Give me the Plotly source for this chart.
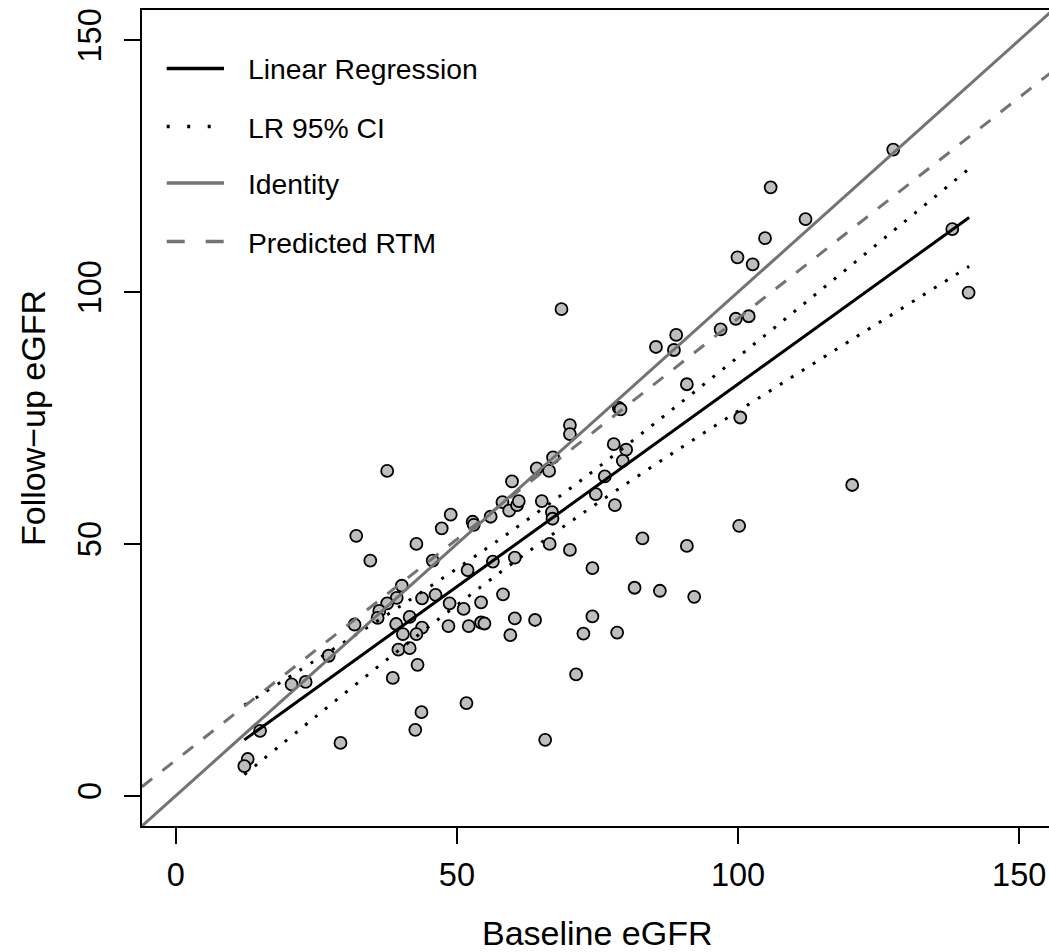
import plotly.graph_objects as go

# ---- data ----
baseline = [32.1, 42.8, 47.3, 34.6, 45.7, 51.9, 40.2, 39.3, 37.6, 36.2,
            35.9, 43.8, 46.2, 48.7, 51.2, 54.3, 41.6, 39.2, 43.8, 40.4,
            42.8, 48.5, 52.1, 54.3, 54.9, 31.8, 27.2, 39.6, 41.6, 43.0,
            38.6, 20.6, 23.1, 51.7, 43.7, 42.6, 15.0, 29.3, 12.8, 12.2,
            37.6, 48.9, 52.8, 53.0, 56.0, 59.8, 58.1, 59.3, 60.7, 61.0,
            64.2, 66.4, 67.1, 70.1, 70.1, 65.1, 66.9, 67.0, 66.5, 70.1,
            60.3, 56.4,
            77.9, 80.1, 79.5, 76.3, 74.7, 78.1, 83.0, 90.9, 74.1, 81.6,
            86.1, 92.2, 58.2, 60.3, 63.9, 59.5, 74.1, 72.5, 78.5, 71.2,
            65.7,
            68.6, 89.0, 85.4, 88.6, 96.9, 99.6, 101.9, 90.9, 78.8, 79.1, 100.4,
            127.6, 105.8, 112.0, 104.8, 99.9, 102.6, 138.1, 141.0,
            120.3, 100.2]
followup = [51.6, 50.0, 53.1, 46.7, 46.7, 44.8, 41.7, 39.3, 38.2, 36.7,
            35.3, 39.2, 39.9, 38.2, 37.1, 38.4, 35.5, 34.1, 33.4, 32.1,
            32.1, 33.7, 33.7, 34.4, 34.2, 34.0, 27.8, 29.0, 29.3, 26.0,
            23.4, 22.1, 22.6, 18.4, 16.6, 13.1, 12.9, 10.5, 7.3, 5.9,
            64.5, 55.8, 54.4, 53.8, 55.4, 62.4, 58.3, 56.6, 57.7, 58.5,
            65.0, 64.5, 67.2, 73.6, 71.8, 58.5, 56.3, 55.0, 50.0, 48.8,
            47.3, 46.5,
            69.8, 68.7, 66.5, 63.4, 59.9, 57.7, 51.1, 49.6, 45.2, 41.3,
            40.7, 39.5, 40.0, 35.2, 34.9, 31.9, 35.6, 32.2, 32.4, 24.1,
            11.1,
            96.6, 91.5, 89.1, 88.5, 92.6, 94.7, 95.2, 81.7, 77.0, 76.7, 75.1,
            128.3, 120.8, 114.5, 110.7, 106.9, 105.5, 112.5, 99.9,
            61.7, 53.6]

# regression line (end points)
lr_x = [12.2, 141.1]
lr_y = [11.1, 114.8]
# 95% CI band of the regression (read at several baseline values)
ci_x = [12.2, 25, 40, 55, 65, 75, 90, 105, 120, 141.1]
ci_upper = [18.0, 27.0, 37.7, 48.9, 56.8, 65.1, 78.2, 91.6, 105.2, 124.5]
ci_lower = [4.2, 15.8, 29.2, 42.1, 50.3, 58.1, 69.2, 79.9, 90.4, 105.1]
# identity line
id_x = [-6, 156]
id_y = [-6, 156]
# predicted regression-to-the-mean line
rtm_x = [-6, 156]
rtm_y = [1.8, 143.9]

legend_labels = ["Linear Regression", "LR 95% CI", "Identity", "Predicted RTM"]
x_ticks = [0, 50, 100, 150]
y_ticks = [0, 50, 100, 150]

FONT = "Liberation Sans, Arial, Helvetica, sans-serif"
GRAY_LINE = "#737373"
W, H = 1049, 952
ML, MR, MT, MB = 142, 0, 10, 126
XR = [-6.0, 155.3]
YR = [-6.0, 156.0]

fig = go.Figure()
fig.add_trace(go.Scatter(
    x=baseline, y=followup, mode="markers",
    marker=dict(size=12, color="#BEBEBE", line=dict(color="black", width=1.8)),
    showlegend=False, hoverinfo="skip"))
fig.add_trace(go.Scatter(x=lr_x, y=lr_y, mode="lines",
                         line=dict(color="black", width=3), showlegend=False))
fig.add_trace(go.Scatter(x=ci_x, y=ci_upper, mode="lines", line_shape="spline",
                         line=dict(color="black", width=3, dash="3px,10px"), showlegend=False))
fig.add_trace(go.Scatter(x=ci_x, y=ci_lower, mode="lines", line_shape="spline",
                         line=dict(color="black", width=3, dash="3px,10px"), showlegend=False))
fig.add_trace(go.Scatter(x=id_x, y=id_y, mode="lines",
                         line=dict(color=GRAY_LINE, width=3), showlegend=False))
fig.add_trace(go.Scatter(x=rtm_x, y=rtm_y, mode="lines",
                         line=dict(color=GRAY_LINE, width=3, dash="13px,13px"), showlegend=False))

# ---- manual legend (pixel positions converted to paper coordinates) ----
pw = W - ML - MR
ph = H - MT - MB


def px(xp):
    return (xp - ML) / pw


def py(yp):
    return (H - MB - yp) / ph


leg_rows = [68.5, 126.5, 183, 241.5]
leg_styles = [("black", None), ("black", "3px,17.5px"), (GRAY_LINE, None), (GRAY_LINE, "18px,21px")]
shapes = []
annotations = []
for lab, yy, (col, dash) in zip(legend_labels, leg_rows, leg_styles):
    ln = dict(color=col, width=3.3)
    if dash:
        ln["dash"] = dash
    shapes.append(dict(type="line", xref="paper", yref="paper",
                       x0=px(166.7), x1=px(224), y0=py(yy), y1=py(yy), line=ln))
    annotations.append(dict(text=lab, xref="paper", yref="paper", x=px(246), y=py(yy + 1),
                            xanchor="left", yanchor="middle", showarrow=False,
                            font=dict(family=FONT, size=28.3, color="black")))

annotations.append(dict(text="Baseline eGFR", xref="paper", yref="paper",
                        x=px(597.5), y=py(933), xanchor="center", yanchor="middle",
                        showarrow=False, font=dict(family=FONT, size=34, color="black")))
annotations.append(dict(text="Follow\u2212up eGFR", xref="paper", yref="paper",
                        x=px(33), y=py(418), xanchor="center", yanchor="middle", textangle=-90,
                        showarrow=False, font=dict(family=FONT, size=34, color="black")))

fig.update_layout(
    width=W, height=H, margin=dict(l=ML, r=MR, t=MT, b=MB),
    paper_bgcolor="white", plot_bgcolor="white",
    font=dict(family=FONT, size=32, color="black"),
    shapes=shapes, annotations=annotations,
    xaxis=dict(range=XR, tickvals=x_ticks, ticktext=[str(v) for v in x_ticks],
               showgrid=False, zeroline=False, showline=True, mirror=True,
               linecolor="black", linewidth=2, ticks="outside", ticklen=16, tickwidth=2,
               tickcolor="black", tickfont=dict(family=FONT, size=32.5, color="black"),
               ticklabelstandoff=3),
    yaxis=dict(range=YR, tickvals=y_ticks, ticktext=[str(v) for v in y_ticks],
               showgrid=False, zeroline=False, showline=True, mirror=False,
               linecolor="black", linewidth=2, ticks="outside", ticklen=16, tickwidth=2,
               tickcolor="black", tickangle=-90, tickfont=dict(family=FONT, size=32.5, color="black"),
               ticklabelstandoff=10),
)

fig.write_html("out.html", config={"displayModeBar": False},
               post_script="document.body.style.margin='0';document.body.style.overflow='hidden';")
